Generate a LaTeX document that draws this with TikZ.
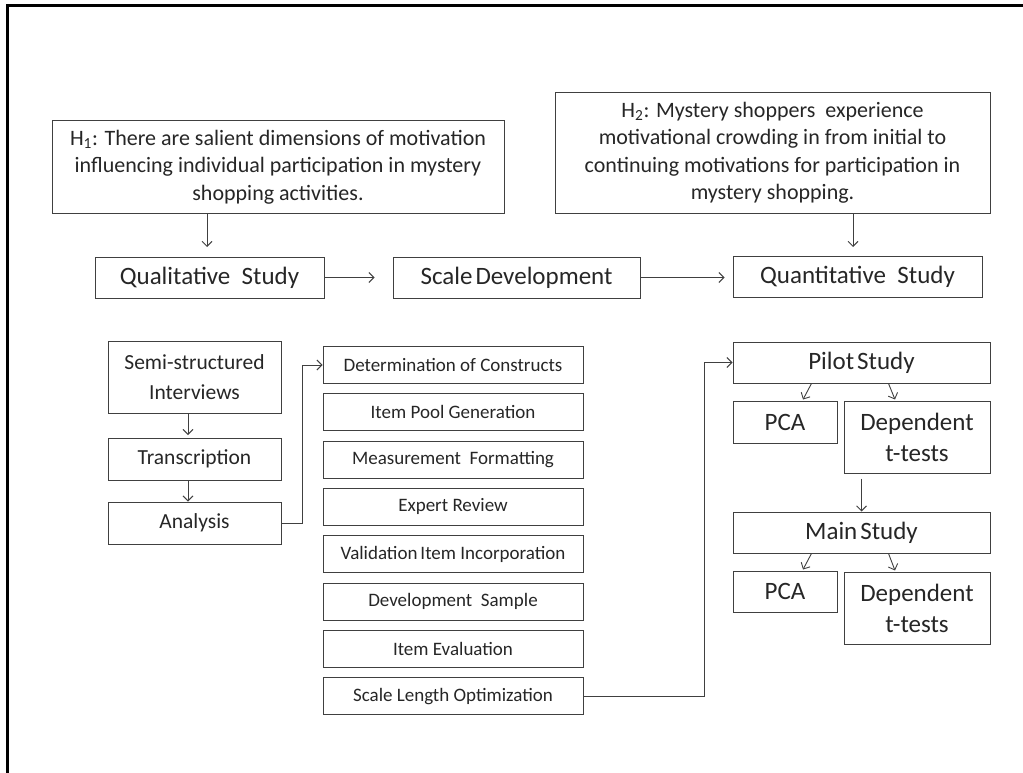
\documentclass[tikz,border=0pt]{standalone}
\usepackage{fontspec}
\setmainfont{Carlito}
\usetikzlibrary{arrows.meta,positioning,calc}

\begin{document}
\begin{tikzpicture}[
  x=1pt, y=-1pt, >={Straight Barb[length=5pt,width=10pt]},
  box/.style={draw=black!75, line width=1pt, text=black!85, align=center, inner sep=0pt},
  big/.style={box, font=\fontsize{25}{31}\selectfont},
  hyp/.style={box, font=\fontsize{22}{27.5}\selectfont},
  lft/.style={box, font=\fontsize{21.5}{30}\selectfont, minimum width=173pt},
  mid/.style={box, font=\fontsize{19}{23}\selectfont, minimum width=260pt, minimum height=37pt},
  link/.style={->, draw=black!75, line width=0.9pt}
]
  \useasboundingbox (0,0) rectangle (1023,773);
  \draw[line width=3pt] (1023,6) -- (7,6) -- (7,773);

  % hypotheses
  \node[hyp, minimum width=452pt, minimum height=92pt] (h1) at (278,167)
    {H\textsubscript{1}: There are salient dimensions of motivation\\
     influencing individual participation in mystery\\ shopping activities.};
  \node[hyp, minimum width=435pt, minimum height=120pt] (h2) at (772.5,153)
    {H\textsubscript{2}: Mystery shoppers\ \ experience\\
     motivational crowding in from initial to\\
     continuing motivations for participation in\\ mystery shopping.};

  % three phases
  \node[big, minimum width=229pt, minimum height=41pt] (qual) at (209.5,277.5) {Qualitative\ \ Study};
  \node[big, minimum width=247pt, minimum height=41pt] (scale) at (516.5,277.5) {Scale\kern3pt Development};
  \node[big, minimum width=249pt, minimum height=41pt] (quant) at (857.5,277) {Quantitative\ \ Study};

  \draw[link] (h1.south -| 207,0) -- (207,247);
  \draw[link] (h2.south -| 853,0) -- (853,247);
  \draw[link] (qual.east) -- ([xshift=-18pt]scale.west);
  \draw[link] (scale.east) -- ([xshift=-8pt]quant.west |- scale.east);

  % qualitative study
  \node[lft, minimum height=72pt] (semi) at (194.5,377) {Semi-structured\\ Interviews};
  \node[lft, minimum height=42pt] (trans) at (194.5,459) {Transcription};
  \node[lft, minimum height=42pt] (anal) at (194.5,523) {Analysis};
  \draw[link] (semi.south -| 188,0) -- (188,435);
  \draw[link] (trans.south -| 188,0) -- (anal.north -| 188,0);

  % scale development
  \foreach \i/\lab in {0/Determination of Constructs, 1/Item Pool Generation,
      2/Measurement\ \ Formatting, 3/Expert Review, 4/Validation\kern3pt Item Incorporation,
      5/Development\ \ Sample, 6/Item Evaluation, 7/Scale Length Optimization} {
    \node[mid] (m\i) at (453,365+47.3*\i) {\lab};
  }
  \draw[link] (anal.east) -- ++(21,0) |- (m0.west);

  % quantitative study
  \node[big, minimum width=257pt, minimum height=41pt] (pilot) at (861.5,362.5) {Pilot\kern3pt Study};
  \node[big, minimum width=104pt, minimum height=42pt] (pca1) at (785,422) {PCA};
  \node[big, minimum width=146pt, minimum height=72pt] (dep1) at (917,437) {Dependent\\ t-tests};
  \node[big, minimum width=257pt, minimum height=41pt] (main) at (861.5,532.5) {Main\kern3pt Study};
  \node[big, minimum width=104pt, minimum height=41pt] (pca2) at (785,591.5) {PCA};
  \node[big, minimum width=146pt, minimum height=72pt] (dep2) at (917,608) {Dependent\\ t-tests};

  \draw[link] (m7.east) -- ++(121,0) |- (pilot.west);
  \draw[link] ([xshift=-50pt]pilot.south) -- ([xshift=18pt,yshift=1pt]pca1.north);
  \draw[link] ([xshift=27pt]pilot.south) -- ([xshift=-22pt,yshift=1pt]dep1.north);
  \draw[link] ([yshift=-5pt]dep1.south -| main.north) -- (main.north);
  \draw[link] ([xshift=-50pt]main.south) -- ([xshift=18pt,yshift=1pt]pca2.north);
  \draw[link] ([xshift=27pt]main.south) -- ([xshift=-22pt,yshift=1pt]dep2.north);
\end{tikzpicture}
\end{document}
